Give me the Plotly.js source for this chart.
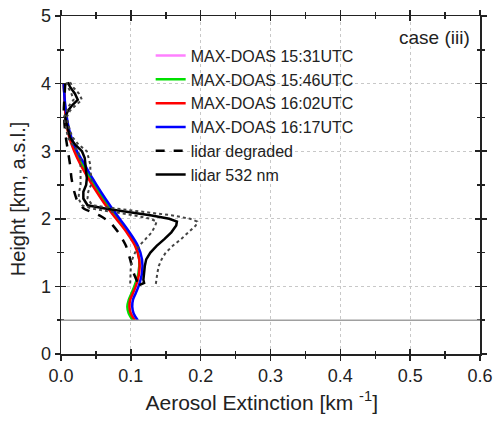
<!DOCTYPE html>
<html>
<head>
<meta charset="utf-8">
<script src="https://cdn.plot.ly/plotly-3.0.1.min.js"></script>
<style>
html,body{margin:0;padding:0;background:#fff;}
#chart{width:497px;height:423px;}
</style>
</head>
<body>
<div id="chart"></div>
<script>
// MAX-DOAS profiles (height in km a.s.l., extinction in km^-1)
const mdHeight = [0.5,0.6,0.7,0.8,0.9,1.0,1.2,1.4,1.6,1.8,2.0,2.2,2.4,2.6,2.8,3.0,3.2,3.4,3.6,3.8,4.0];
const md1531 = [0.104,0.098,0.096,0.098,0.102,0.106,0.111,0.112,0.107,0.095,0.081,0.066,0.053,0.041,0.030,0.020,0.013,0.008,0.006,0.005,0.004];
const md1546 = [0.103,0.097,0.095,0.097,0.101,0.105,0.111,0.112,0.107,0.096,0.081,0.067,0.054,0.042,0.031,0.021,0.013,0.008,0.006,0.005,0.004];
const md1602 = [0.106,0.100,0.098,0.099,0.103,0.107,0.112,0.112,0.106,0.094,0.079,0.064,0.051,0.039,0.028,0.019,0.012,0.008,0.006,0.005,0.004];
const md1617 = [0.110,0.104,0.102,0.103,0.107,0.111,0.116,0.116,0.110,0.098,0.084,0.070,0.057,0.045,0.034,0.023,0.015,0.010,0.007,0.005,0.004];

// lidar degraded
const ldHeight = [4.00,3.80,3.60,3.40,3.20,3.00,2.80,2.60,2.40,2.25,2.15,2.05,1.95,1.80,1.60,1.40,1.20,1.05];
const lidarDegraded = [0.006,0.005,0.004,0.005,0.007,0.010,0.013,0.015,0.019,0.024,0.033,0.055,0.070,0.082,0.093,0.099,0.104,0.110];

// lidar 532 nm with lower / upper bounds
const lHeight = [4.02,3.95,3.85,3.76,3.68,3.60,3.50,3.40,3.30,3.20,3.10,3.00,2.90,2.80,2.70,2.60,2.50,2.40,2.30,2.20,2.15,2.10,2.05,2.00,1.96,1.90,1.80,1.70,1.60,1.50,1.40,1.30,1.20,1.10,1.05,1.02];
const lidar532 = [0.010,0.013,0.020,0.024,0.016,0.010,0.006,0.008,0.010,0.013,0.020,0.030,0.034,0.035,0.035,0.037,0.036,0.032,0.032,0.038,0.065,0.100,0.130,0.155,0.166,0.165,0.158,0.148,0.137,0.128,0.122,0.120,0.119,0.118,0.119,0.112];
const lidarLow = [0.008,0.010,0.015,0.018,0.012,0.008,0.004,0.006,0.008,0.010,0.016,0.024,0.028,0.028,0.028,0.029,0.028,0.026,0.025,0.030,0.045,0.075,0.105,0.128,0.137,0.135,0.130,0.121,0.112,0.106,0.102,0.100,0.100,0.099,0.099,0.099];
const lidarHigh = [0.013,0.017,0.026,0.030,0.021,0.013,0.008,0.010,0.013,0.017,0.025,0.037,0.040,0.042,0.042,0.044,0.043,0.039,0.038,0.045,0.080,0.125,0.160,0.185,0.195,0.193,0.183,0.172,0.160,0.150,0.144,0.140,0.138,0.137,0.136,0.135];

const groundLevel = 0.5;
const names = ['MAX-DOAS 15:31UTC','MAX-DOAS 15:46UTC','MAX-DOAS 16:02UTC','MAX-DOAS 16:17UTC','lidar degraded','lidar 532 nm'];

const FONT = 'Liberation Sans, Arial, sans-serif';

const traces = [
  {x: md1531, y: mdHeight, name: names[0], mode:'lines', line:{color:'#ff80ff', width:2.5, shape:'spline', smoothing:1}},
  {x: md1546, y: mdHeight, name: names[1], mode:'lines', line:{color:'#00e000', width:2.5, shape:'spline', smoothing:1}},
  {x: md1602, y: mdHeight, name: names[2], mode:'lines', line:{color:'#ff0000', width:2.5, shape:'spline', smoothing:1}},
  {x: md1617, y: mdHeight, name: names[3], mode:'lines', line:{color:'#0000ff', width:2.5, shape:'spline', smoothing:1}},
  {x: lidarDegraded, y: ldHeight, name: names[4], mode:'lines', line:{color:'#000', width:2.5, dash:'dash', shape:'spline', smoothing:0.6}},
  {x: lidar532, y: lHeight, name: names[5], mode:'lines', line:{color:'#000', width:2.5}},
  {x: lidarLow, y: lHeight, showlegend:false, mode:'lines', line:{color:'#444', width:2, dash:'dot'}},
  {x: lidarHigh, y: lHeight, showlegend:false, mode:'lines', line:{color:'#444', width:2, dash:'dot'}},
  // invisible trace to activate overlay axes (inner half of crossing ticks)
  {x:[0], y:[0], xaxis:'x2', yaxis:'y2', mode:'markers', marker:{opacity:0}, showlegend:false, hoverinfo:'skip'}
];

const axCommon = {
  showline:true, linecolor:'#222', linewidth:1.5, mirror:'allticks',
  ticks:'outside', ticklen:5, tickwidth:1.5, tickcolor:'#222',
  tickfont:{family:FONT, size:18, color:'#222'},
  showgrid:true, gridcolor:'#c8c8c8', griddash:'dot', gridwidth:1,
  zeroline:false
};

const layout = {
  width:497, height:423,
  margin:{l:61, r:17, t:16, b:69},
  paper_bgcolor:'#fff', plot_bgcolor:'#fff',
  showlegend:true,
  legend:{x:0.214, y:0.933, xanchor:'left', yanchor:'top', bgcolor:'rgba(0,0,0,0)',
          font:{family:FONT, size:16, color:'#222'}, tracegroupgap:0},
  xaxis: Object.assign({}, axCommon, {
    range:[0,0.6], dtick:0.1, tickformat:'.1f',
    minor:{dtick:0.05, ticks:'outside', ticklen:3, tickwidth:1.5, tickcolor:'#222', showgrid:false},
    title:{text:'Aerosol Extinction [km <sup>-1</sup>]&nbsp;&nbsp;&nbsp;', font:{family:FONT, size:21, color:'#222'}, standoff:10}
  }),
  yaxis: Object.assign({}, axCommon, {
    range:[0,5], dtick:1,
    minor:{dtick:0.5, ticks:'outside', ticklen:3, tickwidth:1.5, tickcolor:'#222', showgrid:false},
    title:{text:'Height [km, a.s.l.]&nbsp;&nbsp;&nbsp;&nbsp;&nbsp;', font:{family:FONT, size:20, color:'#222'}, standoff:10}
  }),
  xaxis2: {overlaying:'x', matches:'x', range:[0,0.6], dtick:0.1, ticks:'inside', ticklen:5, tickwidth:1.5, tickcolor:'#222',
    minor:{dtick:0.05, ticks:'inside', ticklen:3, tickwidth:1.5, tickcolor:'#222'},
    showticklabels:false, showgrid:false, zeroline:false, showline:false, mirror:'allticks'},
  yaxis2: {overlaying:'y', matches:'y', range:[0,5], dtick:1, ticks:'inside', ticklen:5, tickwidth:1.5, tickcolor:'#222',
    minor:{dtick:0.5, ticks:'inside', ticklen:3, tickwidth:1.5, tickcolor:'#222'},
    showticklabels:false, showgrid:false, zeroline:false, showline:false, mirror:'allticks'},
  shapes:[{type:'line', xref:'paper', x0:0, x1:1, yref:'y', y0:groundLevel, y1:groundLevel,
           line:{color:'#a0a0a0', width:1.5}}],
  annotations:[{text:'case (iii)', xref:'paper', yref:'paper', x:0.98, y:0.935, xanchor:'right', yanchor:'middle',
                showarrow:false, font:{family:FONT, size:19, color:'#222'}}]
};

Plotly.newPlot('chart', traces, layout, {displayModeBar:false, staticPlot:true});
</script>
</body>
</html>
